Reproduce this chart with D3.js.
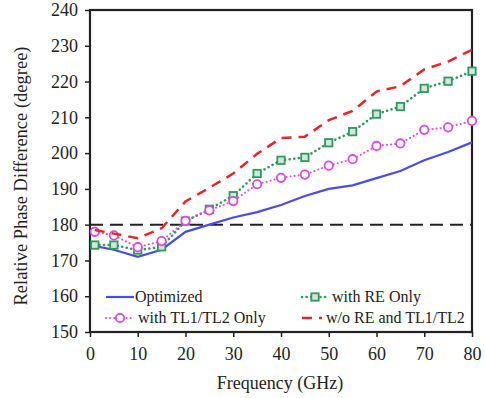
<!DOCTYPE html>
<html lang="en">
<head>
    <meta charset="UTF-8">
    <title>Relative Phase Difference</title>
    <script src="https://d3js.org/d3.v7.min.js"></script>
    <style>
        body { margin: 0; background: #fff; }
        svg text { font-family: "Liberation Serif", "Times New Roman", "DejaVu Serif", serif !important; fill: #222; }
    </style>
</head>
<body>
    <div id="chart-container"></div>

    <script>
        // frequencies (GHz)
        const freqs = [1, 5, 10, 15, 20, 25, 30, 35, 40, 45, 50, 55, 60, 65, 70, 75, 80];

        const optimized = [174, 173, 171, 173, 178, 180, 182, 183.5, 185.5, 188, 190, 191, 193, 195, 198, 200.3, 203];
        const reOnly = [174.3, 174.3, 172.9, 173.8, 181, 184.3, 188.1, 194.3, 198, 198.8, 202.9, 206, 210.9, 213, 218.1, 220.1, 222.9];
        const tlOnly = [178, 177, 173.7, 175.4, 181.1, 184, 186.6, 191.3, 193.1, 194, 196.5, 198.3, 202, 202.7, 206.5, 207.2, 209];
        const woBoth = [178.5, 177.5, 176.2, 179, 186.5, 190.3, 194.3, 199.8, 204.2, 204.6, 209.2, 211.8, 217.2, 218.7, 223.4, 225.6, 228.9];

        const yTicks = [150, 160, 170, 180, 190, 200, 210, 220, 230, 240];
        const xTicks = [0, 10, 20, 30, 40, 50, 60, 70, 80];
        const refLine = 180;

        const series = [
            { name: "Optimized", values: optimized, color: "#4b4be6", width: 2.2, dash: null, marker: null },
            { name: "with RE Only", values: reOnly, color: "#2e9a5c", width: 2.6, dash: "0.1,4.5", marker: "square" },
            { name: "with TL1/TL2 Only", values: tlOnly, color: "#dd48dd", width: 2, dash: "0.1,4", marker: "circle" },
            { name: "w/o RE and TL1/TL2", values: woBoth, color: "#e32626", width: 2.5, dash: "10,7", marker: null }
        ];

        const serif = "'Liberation Serif', 'Times New Roman', 'DejaVu Serif', serif";

        const margin = { top: 10, right: 13, bottom: 66, left: 90 };
        const width = 485 - margin.left - margin.right;
        const height = 398 - margin.top - margin.bottom;

        const svg = d3.select("#chart-container")
            .append("svg")
            .attr("width", 485)
            .attr("height", 398)
            .append("g")
            .attr("transform", "translate(" + margin.left + "," + margin.top + ")");

        const x = d3.scaleLinear().domain([0, 80]).range([0, width]);
        const y = d3.scaleLinear().domain([150, 240]).range([height, 0]);

        // axes
        const xAxis = svg.append("g")
            .attr("transform", "translate(0," + height + ")")
            .call(d3.axisBottom(x).tickValues(xTicks).tickSize(5).tickPadding(10));
        const yAxis = svg.append("g")
            .call(d3.axisLeft(y).tickValues(yTicks).tickSize(5).tickPadding(7));

        [xAxis, yAxis].forEach(function(g) {
            g.attr("font-family", serif);
            g.select(".domain").remove();
            g.selectAll(".tick line").attr("stroke", "#222").attr("stroke-width", 1.5);
            g.selectAll("text").style("font-size", "18px").style("font-family", serif).attr("fill", "#222");
        });

        // frame
        svg.append("rect")
            .attr("width", width)
            .attr("height", height)
            .attr("fill", "none")
            .attr("stroke", "#222")
            .attr("stroke-width", 2.2);

        // reference line at 180
        svg.append("line")
            .attr("x1", 0).attr("x2", width)
            .attr("y1", y(refLine)).attr("y2", y(refLine))
            .attr("stroke", "#222")
            .attr("stroke-width", 2)
            .attr("stroke-dasharray", "13,7");

        const line = d3.line()
            .x(function(d, i) { return x(freqs[i]); })
            .y(function(d) { return y(d); });

        series.forEach(function(s) {
            svg.append("path")
                .datum(s.values)
                .attr("fill", "none")
                .attr("stroke", s.color)
                .attr("stroke-width", s.width)
                .attr("stroke-linecap", s.marker ? "round" : "butt")
                .attr("stroke-dasharray", s.dash)
                .attr("d", line);

            if (s.marker === "square") {
                svg.selectAll(null)
                    .data(s.values)
                    .enter().append("rect")
                    .attr("x", function(d, i) { return x(freqs[i]) - 3.7; })
                    .attr("y", function(d) { return y(d) - 3.7; })
                    .attr("width", 7.4).attr("height", 7.4)
                    .attr("fill", "#cfe8d8")
                    .attr("stroke", s.color)
                    .attr("stroke-width", 1.8);
            } else if (s.marker === "circle") {
                svg.selectAll(null)
                    .data(s.values)
                    .enter().append("circle")
                    .attr("cx", function(d, i) { return x(freqs[i]); })
                    .attr("cy", function(d) { return y(d); })
                    .attr("r", 4.2)
                    .attr("fill", "#fff")
                    .attr("stroke", s.color)
                    .attr("stroke-width", 1.8);
            }
        });

        // legend
        const legendPos = [
            { x: 16, y: 297, len: 28 },
            { x: 212, y: 297, len: 26 },
            { x: 16, y: 318, len: 28 },
            { x: 212, y: 318, len: 20 }
        ];
        series.forEach(function(s, i) {
            const p = legendPos[i];
            const g = svg.append("g").attr("transform", "translate(" + p.x + "," + (p.y - margin.top) + ")");
            g.append("line")
                .attr("x1", 0).attr("x2", p.len)
                .attr("stroke", s.color)
                .attr("stroke-width", s.width)
                .attr("stroke-linecap", s.marker ? "round" : "butt")
                .attr("stroke-dasharray", s.dash);
            if (s.marker === "square") {
                g.append("rect").attr("x", p.len / 2 - 3.7).attr("y", -3.7).attr("width", 7.4).attr("height", 7.4)
                    .attr("fill", "#cfe8d8").attr("stroke", s.color).attr("stroke-width", 1.8);
            } else if (s.marker === "circle") {
                g.append("circle").attr("cx", p.len / 2).attr("r", 4.2)
                    .attr("fill", "#fff").attr("stroke", s.color).attr("stroke-width", 1.8);
            }
            g.append("text")
                .attr("x", p.len + (i === 0 ? 1 : 4))
                .attr("dy", "0.33em")
                .style("font-size", "16px")
                .style("font-family", serif)
                .text(s.name);
        });

        // axis titles
        svg.append("text")
            .attr("x", width / 2 - 1)
            .attr("y", height + 57)
            .attr("text-anchor", "middle")
            .style("font-size", "18px")
            .style("font-family", serif)
            .text("Frequency (GHz)");

        svg.append("text")
            .attr("transform", "rotate(-90)")
            .attr("x", -height / 2 - 5)
            .attr("y", -63)
            .attr("text-anchor", "middle")
            .style("font-size", "18.5px")
            .style("font-family", serif)
            .text("Relative Phase Difference (degree)");
    </script>
</body>
</html>
